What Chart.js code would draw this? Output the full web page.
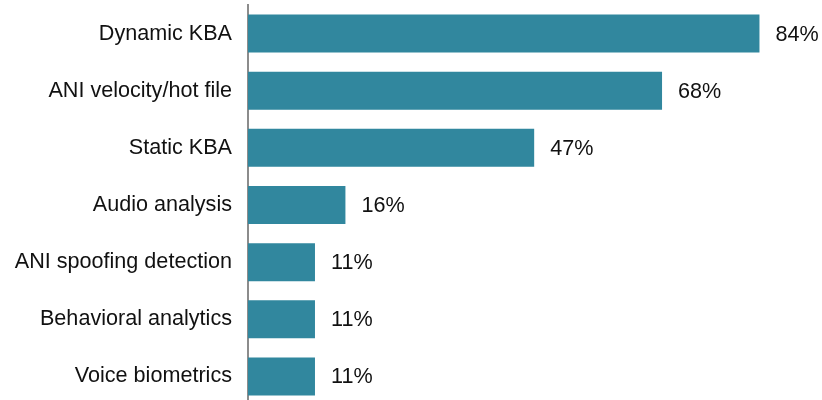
<!DOCTYPE html>
<html>
<head>
<meta charset="utf-8">
<script src="https://cdn.jsdelivr.net/npm/chart.js@4"></script>
<style>
  html, body { margin: 0; padding: 0; background: #fff; overflow: hidden; }
  canvas { display: block; }
</style>
</head>
<body>
<canvas id="chart-methods" width="822" height="405"></canvas>
<script>
// authentication methods in use, share of respondents (%)
const categories = [
    "Dynamic KBA",
    "ANI velocity/hot file",
    "Static KBA",
    "Audio analysis",
    "ANI spoofing detection",
    "Behavioral analytics",
    "Voice biometrics",
];
const shares = [84, 68, 47, 16, 11, 11, 11];

const BAR_COLOR = "#31879e";
const FONT = "'Liberation Sans', Arial, sans-serif";
const FONT_SIZE = 21.6;

// writes "NN%" just past the end of each bar
const valueLabels = {
    id: "valueLabels",
    afterDatasetsDraw(chart) {
        const ctx = chart.ctx;
        const meta = chart.getDatasetMeta(0);
        ctx.save();
        ctx.font = FONT_SIZE + "px " + FONT;
        ctx.fillStyle = "#111";
        ctx.textAlign = "left";
        ctx.textBaseline = "middle";
        meta.data.forEach(function (bar, i) {
            ctx.fillText(shares[i] + "%", bar.x + 16, bar.y + 1);
        });
        ctx.restore();
    }
};

const ctx = document.getElementById("chart-methods").getContext("2d");
new Chart(ctx, {
    type: "bar",
    data: {
        labels: categories,
        datasets: [{
            data: shares,
            backgroundColor: BAR_COLOR,
            borderWidth: 0,
            categoryPercentage: 1,
            barPercentage: 0.665,
        }]
    },
    options: {
        indexAxis: "y",
        responsive: false,
        animation: false,
        layout: { padding: { top: 5, right: 26, bottom: 0, left: 0 } },
        plugins: {
            legend: { display: false },
            tooltip: { enabled: false },
        },
        scales: {
            x: {
                min: 0,
                max: 90,
                display: false,
            },
            y: {
                afterFit(scale) {
                    // fixed gutter for the names, no extra room above/below
                    scale.width = 248;
                    scale.paddingTop = 0;
                    scale.paddingBottom = 0;
                },
                grid: { display: false, drawTicks: false },
                border: { display: true, color: "#8c8c8c", width: 2 },
                ticks: {
                    padding: 16,
                    color: "#111",
                    font: { family: FONT, size: FONT_SIZE },
                }
            }
        }
    },
    plugins: [valueLabels]
});
</script>
</body>
</html>
